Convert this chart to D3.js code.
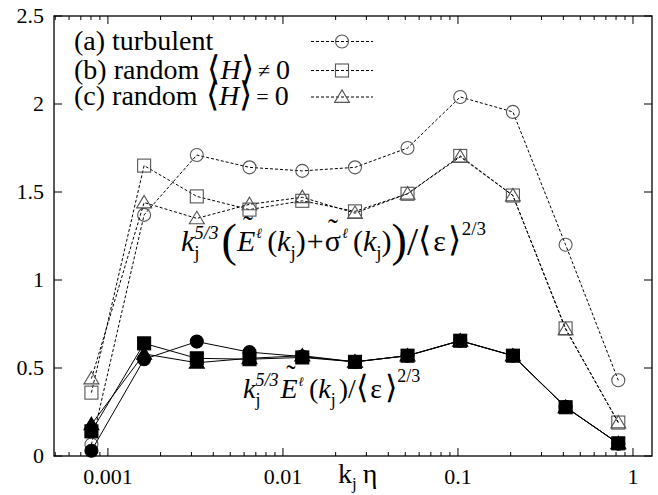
<!DOCTYPE html>
<html><head><meta charset="utf-8"><script src="https://cdn.jsdelivr.net/npm/d3@7"></script></head>
<body style="margin:0">
<script>
// Wavenumber bins k_j * eta
var kEta = [0.000805, 0.00161, 0.00322, 0.00644, 0.0129, 0.0258, 0.0515, 0.103, 0.206, 0.412, 0.824];

// k^{5/3} (E + sigma) / <eps>^{2/3}  (open markers, dashed)
var turbTotal   = [0.065, 1.37, 1.71, 1.64, 1.62, 1.64, 1.75, 2.04, 1.955, 1.20, 0.43];
var randHTotal  = [0.36, 1.65, 1.475, 1.40, 1.45, 1.39, 1.49, 1.705, 1.48, 0.725, 0.19];
var randH0Total = [0.44, 1.44, 1.35, 1.43, 1.47, 1.38, 1.49, 1.70, 1.48, 0.72, 0.19];

// k^{5/3} E / <eps>^{2/3}  (filled markers, solid)
var turbE   = [0.03, 0.55, 0.65, 0.59, 0.565, 0.535, 0.57, 0.655, 0.57, 0.28, 0.07];
var randHE  = [0.14, 0.64, 0.555, 0.55, 0.56, 0.535, 0.57, 0.655, 0.57, 0.277, 0.072];
var randH0E = [0.18, 0.58, 0.53, 0.555, 0.57, 0.535, 0.57, 0.655, 0.57, 0.277, 0.072];

var xTicks = [0.001, 0.01, 0.1, 1];
var xTickLabels = ["0.001", "0.01", "0.1", "1"];
var yTicks = [0, 0.5, 1, 1.5, 2, 2.5];
var yTickLabels = ["0", "0.5", "1", "1.5", "2", "2.5"];

var width = 658, height = 495;
var margin = { top: 16, right: 6, bottom: 39, left: 54 };
var serif = "'Liberation Serif'";

// Approximate Times-style advance widths (em) so nothing has to be measured
var advRegular = { " ": .25, "(": .333, ")": .333, "+": .564, "/": .278, ".": .25, "=": .564,
  "≠": .549, "a": .444, "b": .5, "c": .444, "d": .5, "e": .444, "l": .278, "m": .778, "n": .5,
  "o": .5, "r": .333, "t": .278, "u": .5, "j": .278, "k": .5, "η": .5, "σ": .55, "ε": .44,
  "⟨": .39, "⟩": .39, "E": .611 };
var advItalic = { "k": .444, "E": .611, "H": .722, "ℓ": .42, "/": .278 };
function textWidth(str, size, italic) {
  var table = italic ? advItalic : advRegular;
  var w = 0;
  for (var i = 0; i < str.length; i++) {
    var c = str[i];
    w += (table[c] !== undefined ? table[c] : (advRegular[c] !== undefined ? advRegular[c] : 0.5));
  }
  return w * size;
}

var svg = d3.select("body").append("svg")
  .attr("width", width)
  .attr("height", height);

var x = d3.scaleLog()
  .domain([0.000492, 1.284])
  .range([margin.left, width - margin.right]);

var y = d3.scaleLinear()
  .domain([0, 2.5])
  .range([height - margin.bottom, margin.top]);

var x0 = x.range()[0], x1 = x.range()[1];
var y0 = y.range()[0], y1 = y.range()[1];

// Plain text helper: the font family is the only declaration in the style,
// italics go in as a plain attribute
function addText(px, py, size, str, italic) {
  var t = svg.append("text")
    .attr("x", px).attr("y", py)
    .attr("font-size", size)
    .style("font-family", serif)
    .text(str);
  if (italic) t.attr("font-style", "italic");
  return t;
}

// Marker shapes
var mSize = 6.5;
function drawMarker(shape, cx, cy, filled) {
  var stroke = filled ? "#000" : "#555";
  var fill = filled ? "#000" : "none";
  if (shape === "circle") {
    svg.append("circle").attr("cx", cx).attr("cy", cy).attr("r", mSize)
      .attr("fill", fill).attr("stroke", stroke).attr("stroke-width", 1.1);
  } else if (shape === "square") {
    svg.append("rect").attr("x", cx - mSize).attr("y", cy - mSize)
      .attr("width", 2 * mSize).attr("height", 2 * mSize)
      .attr("fill", fill).attr("stroke", stroke).attr("stroke-width", 1.1);
  } else {
    var h = mSize * 1.1;
    svg.append("path")
      .attr("d", "M" + cx + "," + (cy - h) + "L" + (cx + mSize * 1.15) + "," + (cy + h * 0.75) +
                 "L" + (cx - mSize * 1.15) + "," + (cy + h * 0.75) + "Z")
      .attr("fill", fill).attr("stroke", stroke).attr("stroke-width", 1.1);
  }
}

// Formula layout: pieces placed one after the other.
// stack: start at the same x as the previous piece (super over sub)
// over: centre the piece over the previous piece (tilde accents)
function drawFormula(xStart, base, parts) {
  var cursor = xStart, lastStart = xStart, lastEnd = xStart;
  parts.forEach(function(p) {
    var start = p.stack ? lastStart : cursor;
    var w = textWidth(p.t, p.size, p.italic);
    if (p.over) {
      addText((lastStart + lastEnd) / 2 + (p.dx || 0), base + (p.dy || 0), p.size, p.t, p.italic)
        .attr("text-anchor", "middle");
      return;
    }
    addText(start + (p.dx || 0), base + (p.dy || 0), p.size, p.t, p.italic);
    var end = start + (p.dx || 0) + w;
    if (p.stack) {
      cursor = Math.max(lastEnd, end);
      lastEnd = cursor;
    } else {
      lastStart = start + (p.dx || 0);
      lastEnd = end;
      cursor = end;
    }
  });
}

// Minor ticks (2..9 per decade) inside the domain
var minorTicks = x.ticks(20).filter(function(t) { return xTicks.indexOf(t) < 0; });

// Axes drawn inward on all four sides
function tick(xa, ya, xb, yb) {
  svg.append("line").attr("x1", xa).attr("y1", ya).attr("x2", xb).attr("y2", yb)
    .attr("stroke", "#000").attr("stroke-width", 1);
}
minorTicks.forEach(function(t) {
  tick(x(t), y0, x(t), y0 - 4);
  tick(x(t), y1, x(t), y1 + 4);
});
xTicks.forEach(function(t) {
  tick(x(t), y0, x(t), y0 - 8);
  tick(x(t), y1, x(t), y1 + 8);
});
yTicks.forEach(function(t) {
  tick(x0, y(t), x0 + 8, y(t));
  tick(x1, y(t), x1 - 8, y(t));
});

svg.append("rect")
  .attr("x", x0).attr("y", y1)
  .attr("width", x1 - x0).attr("height", y0 - y1)
  .attr("fill", "none").attr("stroke", "#000").attr("stroke-width", 1.3);

// Tick labels
xTicks.forEach(function(d, i) {
  addText(x(d), y0 + 28, 22, xTickLabels[i]).attr("text-anchor", "middle");
});
yTicks.forEach(function(d, i) {
  addText(x0 - 10, y(d) + 7, 22, yTickLabels[i]).attr("text-anchor", "end");
});

var line = d3.line()
  .x(function(d) { return x(d[0]); })
  .y(function(d) { return y(d[1]); });

var series = [
  { values: turbTotal,   shape: "circle",   filled: false },
  { values: randHTotal,  shape: "square",   filled: false },
  { values: randH0Total, shape: "triangle", filled: false },
  { values: turbE,       shape: "circle",   filled: true },
  { values: randHE,      shape: "square",   filled: true },
  { values: randH0E,     shape: "triangle", filled: true }
];

series.forEach(function(s) {
  var pts = kEta.map(function(k, i) { return [k, s.values[i]]; });
  svg.append("path")
    .attr("d", line(pts))
    .attr("fill", "none")
    .attr("stroke", "#000")
    .attr("stroke-width", 1)
    .attr("stroke-dasharray", s.filled ? null : "3,2");
  pts.forEach(function(p) { drawMarker(s.shape, x(p[0]), y(p[1]), s.filled); });
});

// Legend
var legendRows = [41.5, 70.5, 97];
var legendShapes = ["circle", "square", "triangle"];
drawFormula(74, legendRows[0] + 8, [{ t: "(a) turbulent", size: 28 }]);
drawFormula(74, legendRows[1] + 8, [
  { t: "(b) random", size: 28 },
  { t: "⟨", size: 34, dx: 8, dy: 1 },
  { t: "H", size: 28, italic: true },
  { t: "⟩", size: 34, dy: 1 },
  { t: "≠", size: 22, dx: 4, dy: -1 },
  { t: "0", size: 28, dx: 6 }
]);
drawFormula(74, legendRows[2] + 8, [
  { t: "(c) random", size: 28 },
  { t: "⟨", size: 34, dx: 8, dy: 1 },
  { t: "H", size: 28, italic: true },
  { t: "⟩", size: 34, dy: 1 },
  { t: "=", size: 22, dx: 4, dy: -1 },
  { t: "0", size: 28, dx: 6 }
]);
legendRows.forEach(function(ly, i) {
  svg.append("line").attr("x1", 311).attr("x2", 373).attr("y1", ly).attr("y2", ly)
    .attr("stroke", "#000").attr("stroke-width", 1).attr("stroke-dasharray", "3,2");
  drawMarker(legendShapes[i], 342, ly, false);
});

// x-axis label
drawFormula(338, y0 + 27, [
  { t: "k", size: 28 },
  { t: "j", size: 17, dy: 6 },
  { t: "η", size: 28, dx: 6 }
]);

var big = 30, sup = 19;
drawFormula(181, 251, [
  { t: "k", size: big, italic: true },
  { t: "j", size: sup, dy: 8 },
  { t: "5/3", size: sup, italic: true, dy: -12, stack: true },
  { t: "(", size: 46, dy: 5, dx: 3 },
  { t: "E", size: big, italic: true },
  { t: "˜", size: big, dy: -15, over: true, dx: 2 },
  { t: "ℓ", size: 14, italic: true, dy: -13, dx: 1 },
  { t: "(", size: big, dx: 5 },
  { t: "k", size: big, italic: true },
  { t: "j", size: sup, dy: 8 },
  { t: ")", size: big },
  { t: "+", size: big, dx: 1 },
  { t: "σ", size: big, dx: 1 },
  { t: "˜", size: big, dy: -12, over: true },
  { t: "ℓ", size: 14, italic: true, dy: -13, dx: 1 },
  { t: "(", size: big, dx: 5 },
  { t: "k", size: big, italic: true },
  { t: "j", size: sup, dy: 8 },
  { t: ")", size: big },
  { t: ")", size: 46, dy: 5 },
  { t: "/", size: 40, dy: 4 },
  { t: "⟨", size: big + 4 },
  { t: "ε", size: big, dx: 2 },
  { t: "⟩", size: big + 4, dx: 2 },
  { t: "2/3", size: sup, dy: -16 }
]);

drawFormula(243, 398, [
  { t: "k", size: 28, italic: true },
  { t: "j", size: 18, dy: 8 },
  { t: "5/3", size: 18, italic: true, dy: -12, stack: true },
  { t: "E", size: 28, italic: true, dx: 2 },
  { t: "˜", size: 28, dy: -14, over: true, dx: 2 },
  { t: "ℓ", size: 13, italic: true, dy: -12, dx: 1 },
  { t: "(", size: 28, dx: 5 },
  { t: "k", size: 28, italic: true },
  { t: "j", size: 18, dy: 8 },
  { t: ")", size: 28, dx: 3 },
  { t: "/", size: 28 },
  { t: "⟨", size: 32 },
  { t: "ε", size: 28, dx: 2 },
  { t: "⟩", size: 32, dx: 2 },
  { t: "2/3", size: 18, dy: -16 }
]);
</script>
</body>
</html>
